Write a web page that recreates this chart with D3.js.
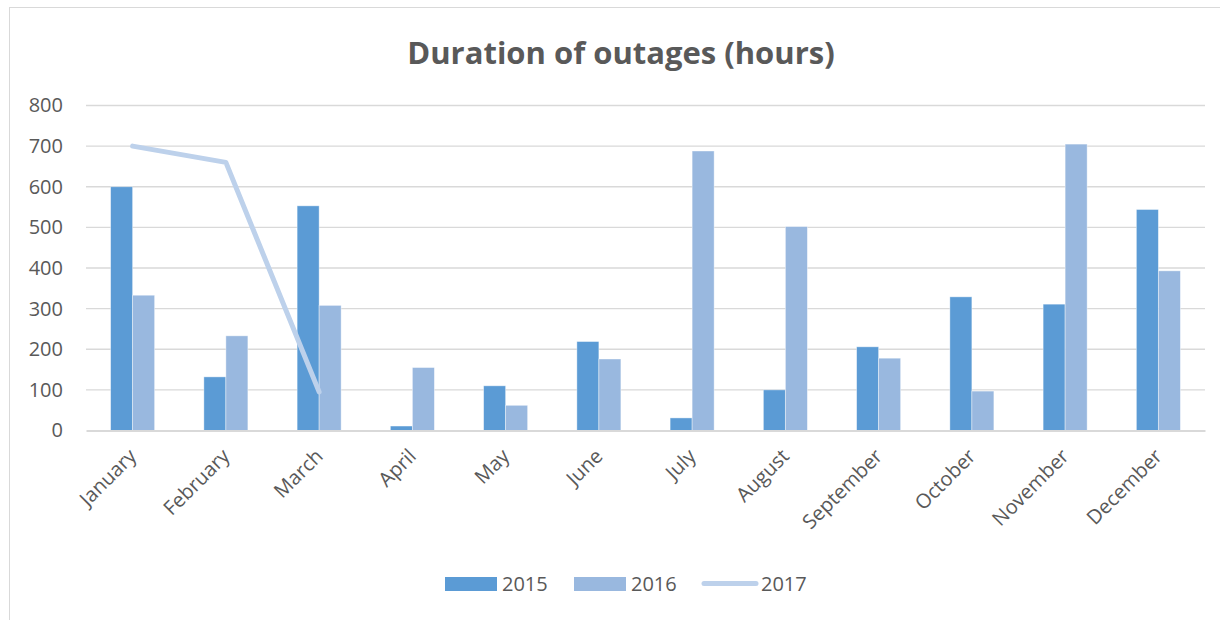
<!DOCTYPE html>
<html>
<head>
<meta charset="utf-8">
<script src="https://cdn.jsdelivr.net/npm/d3@7"></script>
<style>
  body { margin: 0; background: #fff; }
  text { font-family: "Open Sans", sans-serif; fill: #595959; }
</style>
</head>
<body>
<div id="chart"></div>
<script>
// Duration of outages, hours per month.
const months = ["January", "February", "March", "April", "May", "June",
  "July", "August", "September", "October", "November", "December"];
const years = ["2015", "2016", "2017"];
const hours2015 = [600, 132, 553, 11, 110, 219, 31, 100, 206, 329, 311, 544];
const hours2016 = [333, 233, 308, 155, 62, 176, 688, 502, 178, 97, 705, 393];
const hours2017 = [700, 660, 95];
const yTicks = [0, 100, 200, 300, 400, 500, 600, 700, 800];

const W = 1220, H = 620;
const margin = {top: 105.5, right: 15, bottom: 189.5, left: 86};
const colors = {"2015": "#5b9bd5", "2016": "#99b8df", "2017": "#bdd1eb"};

const svg = d3.select("#chart").append("svg")
    .attr("width", W)
    .attr("height", H);

// chart area border
svg.append("rect")
    .attr("x", 9.5).attr("y", 7.5)
    .attr("width", W + 20).attr("height", H + 20)
    .attr("fill", "#fff")
    .attr("stroke", "#d9d9d9");

let x = d3.scaleBand()
    .domain(months)
    .range([margin.left, W - margin.right])
    .paddingInner(0.528)
    .paddingOuter(0.264);

let xSub = d3.scaleBand()
    .domain(["2015", "2016"])
    .range([0, x.bandwidth()]);

let y = d3.scaleLinear()
    .domain([0, 800])
    .range([H - margin.bottom, margin.top]);

// gridlines
svg.append("g")
    .selectAll("line")
    .data(yTicks.slice(1))
    .join("line")
    .attr("x1", margin.left).attr("x2", W - margin.right)
    .attr("y1", d => y(d)).attr("y2", d => y(d))
    .attr("stroke", "#d9d9d9")
    .attr("stroke-width", 1.3);

// y axis labels
let yAxis = svg.append("g")
    .attr("transform", `translate(${margin.left},0)`)
    .call(d3.axisLeft(y).tickValues(yTicks).tickSize(0).tickPadding(23));
yAxis.select(".domain").remove();
yAxis.selectAll("text")
    .style("font-size", "20px")
    .attr("fill", "#595959");

// bars
let rows = months.map((m, i) => ({month: m, "2015": hours2015[i], "2016": hours2016[i]}));
svg.append("g")
    .selectAll("g")
    .data(rows)
    .join("g")
    .attr("transform", d => `translate(${x(d.month)},0)`)
    .selectAll("rect")
    .data(d => ["2015", "2016"].map(k => ({key: k, value: d[k]})))
    .join("rect")
    .attr("x", d => xSub(d.key))
    .attr("width", xSub.bandwidth())
    .attr("y", d => y(d.value))
    .attr("height", d => y(0) - y(d.value))
    .attr("fill", d => colors[d.key])
    .attr("stroke", "#fff")
    .attr("stroke-opacity", 0.5)
    .attr("stroke-width", 0.8);

// x axis
let xAxis = svg.append("g")
    .attr("transform", `translate(0,${y(0)})`)
    .call(d3.axisBottom(x).tickSize(0).tickPadding(0));
xAxis.select(".domain")
    .attr("stroke", "#d9d9d9")
    .attr("stroke-width", 2);
xAxis.selectAll("text")
    .style("font-size", "20px")
    .attr("fill", "#595959")
    .attr("text-anchor", "end")
    .attr("dy", null)
    .attr("transform", "translate(5,27) rotate(-45)");

// 2017 line
let line = d3.line()
    .x((d, i) => x(months[i]) + x.bandwidth() / 2)
    .y(d => y(d));
svg.append("path")
    .datum(hours2017)
    .attr("fill", "none")
    .attr("stroke", colors["2017"])
    .attr("stroke-width", 5)
    .attr("stroke-linecap", "round")
    .attr("stroke-linejoin", "round")
    .attr("d", line);

// title
svg.append("text")
    .attr("x", 621)
    .attr("y", 64)
    .attr("text-anchor", "middle")
    .style("font-size", "31px")
    .style("font-weight", "bold")
    .text("Duration of outages (hours)");

// legend
let legendX = [445, 574, 702];
let legend = svg.append("g");
years.forEach((yr, i) => {
  if (yr === "2017") {
    legend.append("line")
      .attr("x1", legendX[i] + 2).attr("x2", legendX[i] + 54)
      .attr("y1", 583.5).attr("y2", 583.5)
      .attr("stroke", colors[yr])
      .attr("stroke-width", 5)
      .attr("stroke-linecap", "round");
  } else {
    legend.append("rect")
      .attr("x", legendX[i]).attr("y", 577)
      .attr("width", 52).attr("height", 14)
      .attr("fill", colors[yr]);
  }
  legend.append("text")
    .attr("x", legendX[i] + (yr === "2017" ? 59 : 57))
    .attr("y", 591)
    .style("font-size", "20px")
    .text(yr);
});
</script>
</body>
</html>
